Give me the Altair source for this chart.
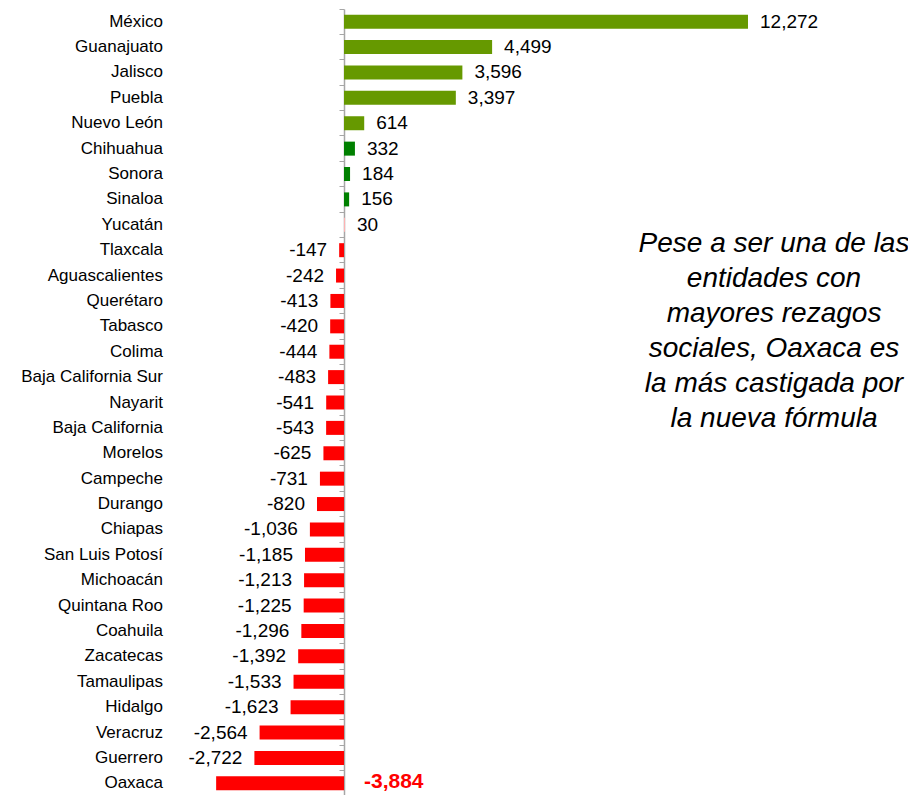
import altair as alt
import pandas as pd

states = ["México", "Guanajuato", "Jalisco", "Puebla", "Nuevo León", "Chihuahua",
          "Sonora", "Sinaloa", "Yucatán", "Tlaxcala", "Aguascalientes", "Querétaro",
          "Tabasco", "Colima", "Baja California Sur", "Nayarit", "Baja California",
          "Morelos", "Campeche", "Durango", "Chiapas", "San Luis Potosí", "Michoacán",
          "Quintana Roo", "Coahuila", "Zacatecas", "Tamaulipas", "Hidalgo", "Veracruz",
          "Guerrero", "Oaxaca"]
values = [12272, 4499, 3596, 3397, 614, 332, 184, 156, 30, -147, -242, -413, -420,
          -444, -483, -541, -543, -625, -731, -820, -1036, -1185, -1213, -1225,
          -1296, -1392, -1533, -1623, -2564, -2722, -3884]
groups = ["alto"] * 5 + ["medio"] * 3 + ["bajo"] + ["negativo"] * 22
highlight = "Oaxaca"
note_lines = ["Pese a ser una de las", "entidades con", "mayores rezagos",
              "sociales, Oaxaca es", "la más castigada por", "la nueva fórmula"]

df = pd.DataFrame({"estado": states, "valor": values, "grupo": groups})
df["etiqueta"] = df["valor"].map(lambda v: f"{v:,}")

W, H = 900, 787
x_scale = alt.Scale(domain=[-10206.6, 17132.4], nice=False, zero=False)
y_scale = alt.Scale(domain=states, paddingInner=0, paddingOuter=0)
font = "Liberation Sans"

base = alt.Chart(df).properties(width=W, height=H)

bars = base.mark_bar(size=14).encode(
    x=alt.X("valor:Q", scale=x_scale, axis=None),
    y=alt.Y("estado:N", scale=y_scale, sort=states,
            axis=alt.Axis(labels=False, title=None, offset=-336, bandPosition=0,
                          ticks=True, tickSize=5, tickColor="#a6a6a6",
                          domainColor="#a6a6a6", domainWidth=1.5, grid=False)),
    color=alt.Color("grupo:N", legend=None,
                    scale=alt.Scale(domain=["alto", "medio", "bajo", "negativo"],
                                    range=["#669900", "#008000", "#ffb3b3", "#ff0000"])),
)

names = base.mark_text(align="right", baseline="middle", font=font, fontSize=17,
                       color="#000000").encode(
    x=alt.value(155),
    y=alt.Y("estado:N", scale=y_scale, sort=states),
    text="estado:N",
)

pos_labels = base.transform_filter("datum.valor >= 0").mark_text(
    align="left", baseline="middle", dx=12, font=font, fontSize=19, color="#000000"
).encode(
    x=alt.X("valor:Q", scale=x_scale),
    y=alt.Y("estado:N", scale=y_scale, sort=states),
    text="etiqueta:N",
)

neg_labels = base.transform_filter(
    f"datum.valor < 0 && datum.estado != '{highlight}'").mark_text(
    align="right", baseline="middle", dx=-12, font=font, fontSize=19, color="#000000"
).encode(
    x=alt.X("valor:Q", scale=x_scale),
    y=alt.Y("estado:N", scale=y_scale, sort=states),
    text="etiqueta:N",
)

hl_label = base.transform_filter(f"datum.estado == '{highlight}'").mark_text(
    align="left", baseline="middle", font=font, fontSize=21, fontWeight="bold",
    color="#ff0000", dy=-1
).encode(
    x=alt.value(356),
    y=alt.Y("estado:N", scale=y_scale, sort=states),
    text="etiqueta:N",
)

note_df = pd.DataFrame({"texto": ["\n".join(note_lines)]})
note = alt.Chart(note_df).mark_text(
    align="center", baseline="middle", font=font, fontSize=28, fontStyle="italic",
    lineBreak="\n", lineHeight=35, color="#000000"
).encode(
    x=alt.value(766),
    y=alt.value(235),
    text="texto:N",
)

chart = alt.layer(bars, names, pos_labels, neg_labels, hl_label, note).properties(
    width=W, height=H,
    padding={"left": 0, "top": 1, "right": 0, "bottom": 0},
    autosize=alt.AutoSizeParams(type="none")
).configure_view(stroke=None)

chart.save("out.html", embed_options={"renderer": "svg", "actions": False})
